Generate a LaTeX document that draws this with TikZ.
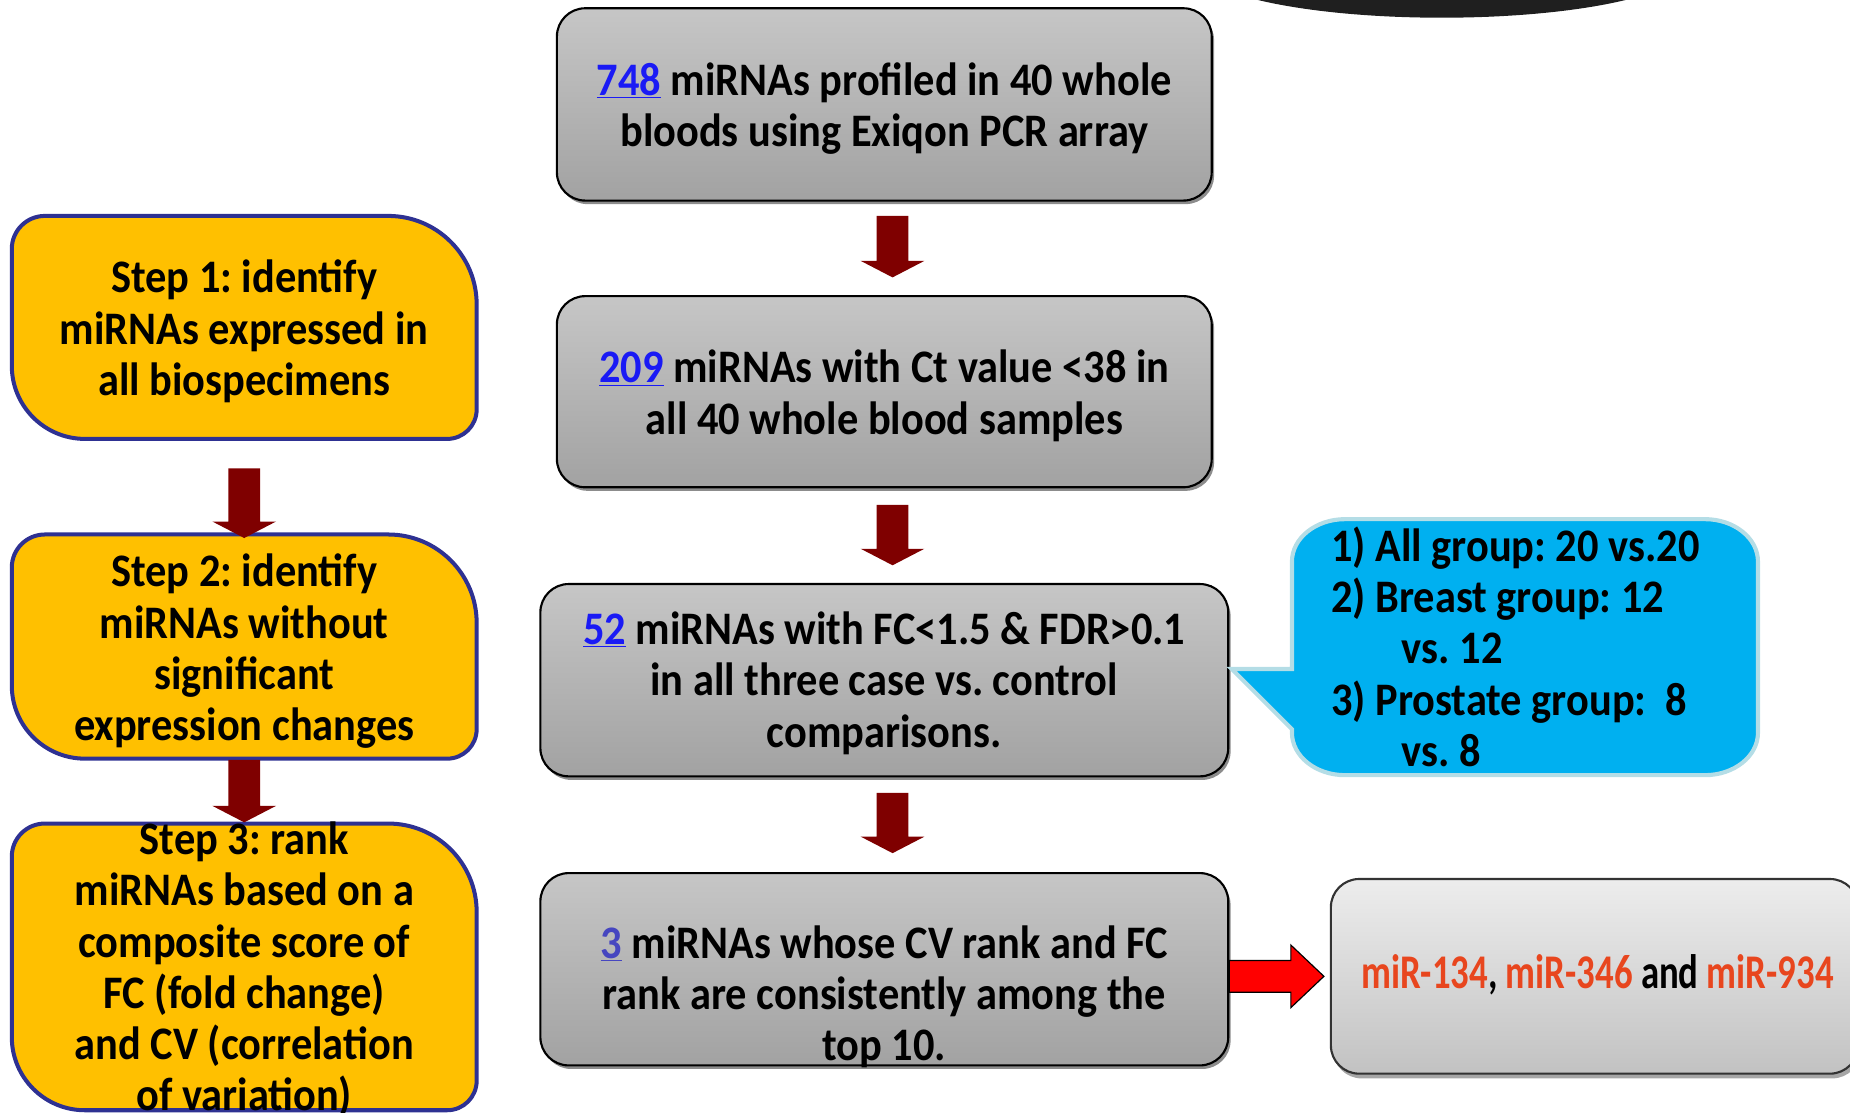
\documentclass[tikz,border=0pt]{standalone}
\usepackage{fontspec}
\setmainfont{Carlito}[FakeStretch=0.91]
\newfontfamily\mirfont{Carlito}[FakeStretch=0.76]
\usetikzlibrary{arrows.meta,shadows,calc}
\definecolor{boxtop}{HTML}{C6C6C6}
\definecolor{boxbot}{HTML}{A2A2A2}
\definecolor{lighttop}{HTML}{EDEDED}
\definecolor{lightbot}{HTML}{C2C2C2}
\definecolor{stepfill}{HTML}{FFC000}
\definecolor{stepdraw}{HTML}{2E3192}
\definecolor{arrowred}{HTML}{7F0000}
\definecolor{callfill}{HTML}{00B0F0}
\definecolor{calldraw}{HTML}{B4DDE6}
\definecolor{numblue}{HTML}{1A1AF5}
\definecolor{numpurple}{HTML}{4646C0}
\definecolor{mirred}{HTML}{E8461E}
\newcommand{\numlink}[2]{\textcolor{#1}{\underline{#2}}}
\newcommand{\blockdown}[2]{\fill[arrowred] ($(#1)+(-13.5,0)$) -- ($(#1)+(13.5,0)$) -- ($(#2)+(13.5,14)$) -- ($(#2)+(27,14)$) -- (#2) -- ($(#2)+(-27,14)$) -- ($(#2)+(-13.5,14)$) -- cycle;}
\newcommand{\stepoutline}[1]{\draw[stepshape] ($(#1.north west)+(0,-28)$) arc[start angle=180,end angle=90,radius=28pt] -- ($(#1.north east)+(-75,0)$) arc[start angle=90,end angle=0,radius=75pt] -- ($(#1.south east)+(0,25)$) arc[start angle=0,end angle=-90,radius=25pt] -- ($(#1.south west)+(62,0)$) arc[start angle=270,end angle=180,radius=62pt] -- cycle;}
\begin{document}
\begin{tikzpicture}[x=1pt,y=1pt,
  txt/.style={font=\fontsize{39.5}{43.5}\selectfont\bfseries\frenchspacing, align=center, inner sep=0pt},
  graybox/.style={draw=black, line width=1.8pt, rounded corners=24pt, top color=boxtop, bottom color=boxbot,
     drop shadow={shadow xshift=2pt, shadow yshift=-3pt, fill=black, opacity=0.45}, inner sep=0pt},
  lightbox/.style={draw=black!80, line width=1.8pt, rounded corners=24pt, top color=lighttop, bottom color=lightbot,
     drop shadow={shadow xshift=2pt, shadow yshift=-4pt, fill=black, opacity=0.35}, inner sep=0pt},
  frame/.style={inner sep=0pt, outer sep=0pt},
  stepshape/.style={fill=stepfill, draw=stepdraw, line width=3.4pt},
  callshape/.style={fill=callfill, draw=calldraw, line width=3.5pt}]
\useasboundingbox (0,0) rectangle (1568,-943);
% dark shape at the top
\fill[black!88] (1222,30) ellipse [x radius=209pt, y radius=45pt];

% left step boxes
\node[frame, minimum width=394pt, minimum height=189pt] (s1) at (207,-277.5) {};
\node[frame, minimum width=394pt, minimum height=190pt] (s2) at (207,-548) {};
\node[frame, minimum width=394pt, minimum height=243pt] (s3) at (207,-819.5) {};
\stepoutline{s1}
\stepoutline{s2}
\stepoutline{s3}
\node[txt] (st1) at (207,-281) {Step 1: identify\\miRNAs expressed in\\all biospecimens};
\node[txt] (st2) at (207,-552) {Step 2: identify\\miRNAs without\\significant\\expression changes};
\node[txt] (st3) at (207,-822) {Step 3: rank\\miRNAs based on a\\composite score of\\FC (fold change)\\and CV (correlation\\of variation)};
\coordinate (l1s) at ($(s1.south)+(0,-25)$);
\coordinate (l1t) at ($(s2.north)+(0,-3)$);
\coordinate (l2s) at ($(s2.south)+(0,-1)$);
\coordinate (l2t) at ($(s3.north)+(0,1)$);
\blockdown{l1s}{l1t}
\blockdown{l2s}{l2t}

% central gray boxes
\node[graybox, minimum width=555pt, minimum height=163pt] (b1) at (749.5,-88.5) {};
\node[txt] (t1) at (749.5,-92) {\numlink{numblue}{748} miRNAs profiled in 40 whole\\bloods using Exiqon PCR array};
\node[graybox, minimum width=555pt, minimum height=162pt] (b2) at (749.5,-332) {};
\node[txt] (t2) at (749.5,-335.5) {\numlink{numblue}{209} miRNAs with Ct value <38 in\\all 40 whole blood samples};
\node[graybox, minimum width=583pt, minimum height=163pt] (b3) at (749.5,-576.5) {};
\node[txt] (t3) at (749.5,-579) {\numlink{numblue}{52} miRNAs with FC<1.5 \& FDR>0.1\\in all three case vs. control\\comparisons.};
\node[graybox, minimum width=583pt, minimum height=163pt] (b4) at (749.5,-821.5) {};
\node[txt] (t4) at (749.5,-845) {\numlink{numpurple}{3} miRNAs whose CV rank and FC\\rank are consistently among the\\top 10.};

\coordinate (m1s) at ($(b1.south)+(7,-12)$);
\coordinate (m1t) at ($(b2.north)+(7,15)$);
\coordinate (m2s) at ($(b2.south)+(7,-14)$);
\coordinate (m2t) at ($(b3.north)+(7,15)$);
\coordinate (m3s) at ($(b3.south)+(7,-13)$);
\coordinate (m3t) at ($(b4.north)+(7,16)$);
\blockdown{m1s}{m1t}
\blockdown{m2s}{m2t}
\blockdown{m3s}{m3t}

% result box
\node[lightbox, minimum width=447pt, minimum height=165pt] (b5) at (1351.5,-827.5) {};
\node[font=\fontsize{41}{46}\mirfont\bfseries, inner sep=0pt] (t5) at (1354,-826)
  {\textcolor{mirred}{miR-134}, \textcolor{mirred}{miR-346} and \textcolor{mirred}{miR-934}};
\coordinate (rs) at (b4.east |- b5.west);
\coordinate (rt) at ($(b5.west)+(-5,0)$);
\filldraw[fill=red, draw=black, line width=1pt] ($(rs)+(0,13.5)$) -- ($(rt)+(-28,13.5)$) -- ($(rt)+(-28,26.5)$) -- (rt) -- ($(rt)+(-28,-26.5)$) -- ($(rt)+(-28,-13.5)$) -- ($(rs)+(0,-13.5)$) -- cycle;

% callout
\coordinate (ctip) at ($(b3.east)+(2,9.5)$);
\draw[callshape] (1095,-567) -- (ctip) -- (1095,-618) -- (1095,-621)
  arc[start angle=180,end angle=270,x radius=45pt,y radius=36pt] -- (1445,-657)
  arc[start angle=270,end angle=360,x radius=45pt,y radius=36pt] -- (1490,-476)
  arc[start angle=0,end angle=90,x radius=45pt,y radius=36pt] -- (1140,-440)
  arc[start angle=90,end angle=180,x radius=45pt,y radius=36pt] -- cycle;
\node[txt, align=left, anchor=west] (ct) at (1128,-548) {1) All group: 20 vs.20\\2) Breast group: 12\\\hspace*{60pt}vs. 12\\3) Prostate group:\ \ 8\\\hspace*{60pt}vs. 8};
\end{tikzpicture}
\end{document}
